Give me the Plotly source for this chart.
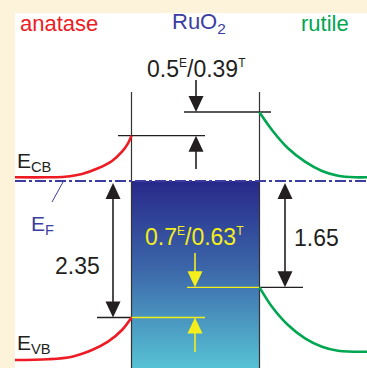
import plotly.graph_objects as go

# ---------------- data (schematic diagram coordinates; vertical axis points downward) ----------------
material_names = ["anatase", "RuO<sub>2</sub>", "rutile"]
material_label_x = [59, 199, 325]
material_colors = ["#ED1C24", "#3B3D9F", "#00A651"]

fermi_level = 181
interface_x = [131.5, 259.5]
interface_top = 92
diagram_bottom = 368

anatase_cb_x = [15, 48, 65, 82, 98, 112, 122, 128, 131.5]
anatase_cb_y = [177.3, 177.3, 176.7, 174, 168.3, 161, 151.7, 143.3, 135.7]
anatase_vb_x = [15, 48, 72, 92, 108, 122, 131.5]
anatase_vb_y = [360, 359.3, 356.7, 350, 341.7, 330, 317.5]
rutile_cb_x = [259.5, 272, 288, 305, 322, 338, 355, 367]
rutile_cb_y = [112.3, 130, 148.3, 161.7, 171, 175.7, 177.3, 177.3]
rutile_vb_x = [259.5, 272, 288, 305, 322, 338, 367]
rutile_vb_y = [287.3, 306.7, 325, 338.3, 346.7, 350.7, 351.7]

# reference levels (short horizontal lines)
level_y = [112, 135.7, 317.5, 317.5, 287.3, 287.3]
level_x0 = [184, 118, 97, 131.5, 187, 259.5]
level_x1 = [271, 205, 131.5, 205, 259.5, 303]
level_is_yellow = [False, False, False, True, True, False]

# arrows: x, start, end (tip at end; double arrows have tips at both ends)
arrow_x = [196, 196, 113, 285, 195, 195]
arrow_start = [80, 169, 183, 183, 253, 352]
arrow_end = [112, 135.7, 317.5, 287.3, 287.3, 317.5]
arrow_double = [False, False, True, True, False, False]
arrow_is_yellow = [False, False, False, False, True, True]

# value labels
SUP = '<sup><span style="font-size:12px">{}</span></sup>'
value_texts = ["0.5" + SUP.format("E") + "/0.39" + SUP.format("T"), "2.35", "1.65",
               "0.7" + SUP.format("E") + "/0.63" + SUP.format("T")]
value_x = [196, 77.5, 316, 194]
value_y = [69, 266, 238, 237]
value_is_yellow = [False, False, False, True]

# ---------------- styling ----------------
BLACK = "#231F20"
YELLOW = "#F4EE1C"
NAVY = "#3B3D9F"
RED = "#ED1C24"
GREEN = "#00A651"
FONT = "Liberation Sans, Arial, sans-serif"
HEAD_W = 15
HEAD_L = 16

fig = go.Figure()

# RuO2 box with gradient
bx0, bx1 = interface_x
fig.add_trace(go.Scatter(
    x=[bx0, bx1, bx1, bx0, bx0], y=[fermi_level, fermi_level, diagram_bottom, diagram_bottom, fermi_level],
    mode="lines", line=dict(width=0), fill="toself",
    fillgradient=dict(type="vertical", start=fermi_level, stop=diagram_bottom,
                      colorscale=[[0, "#28288A"], [0.45, "#3B64A8"], [1, "#57C2D4"]]),
    hoverinfo="skip"))

# interface lines
for xi in interface_x:
    fig.add_trace(go.Scatter(x=[xi, xi], y=[interface_top, diagram_bottom], mode="lines",
                             line=dict(color="#333333", width=1.2), hoverinfo="skip"))

# level lines
for y, x0, x1, yel in zip(level_y, level_x0, level_x1, level_is_yellow):
    fig.add_trace(go.Scatter(x=[x0, x1], y=[y, y], mode="lines",
                             line=dict(color=YELLOW if yel else BLACK, width=1.3), hoverinfo="skip"))

# Fermi level
fig.add_trace(go.Scatter(x=[15, 367], y=[fermi_level, fermi_level], mode="lines",
                         line=dict(color=NAVY, width=2, dash="11px,3px,3px,3px"), hoverinfo="skip"))

# band edges
for xs, ys, col in [(anatase_cb_x, anatase_cb_y, RED), (anatase_vb_x, anatase_vb_y, RED),
                    (rutile_cb_x, rutile_cb_y, GREEN), (rutile_vb_x, rutile_vb_y, GREEN)]:
    fig.add_trace(go.Scatter(x=xs, y=ys, mode="lines", line=dict(color=col, width=2.6, shape="spline"),
                             hoverinfo="skip"))

# E_F leader line
fig.add_trace(go.Scatter(x=[52, 63], y=[202, 182], mode="lines", line=dict(color=NAVY, width=1),
                         hoverinfo="skip"))

# arrows
def head(x, tip, direction, col):
    base = tip - direction * HEAD_L
    fig.add_trace(go.Scatter(x=[x - HEAD_W / 2, x + HEAD_W / 2, x, x - HEAD_W / 2],
                             y=[base, base, tip, base], mode="lines", fill="toself",
                             fillcolor=col, line=dict(width=0, color=col), hoverinfo="skip"))

for x, s, e, dbl, yel in zip(arrow_x, arrow_start, arrow_end, arrow_double, arrow_is_yellow):
    col = YELLOW if yel else BLACK
    d = 1 if e > s else -1
    shaft_end = e - d * (HEAD_L - 2)
    shaft_start = s + d * (HEAD_L - 2) if dbl else s
    fig.add_trace(go.Scatter(x=[x, x], y=[shaft_start, shaft_end], mode="lines",
                             line=dict(color=col, width=1.6), hoverinfo="skip"))
    head(x, e, d, col)
    if dbl:
        head(x, s, -d, col)

annotations = []
for t, x, c in zip(material_names, material_label_x, material_colors):
    annotations.append(dict(x=x, y=23, text=t, showarrow=False, xanchor="center", yanchor="middle",
                            font=dict(family=FONT, size=22, color=c)))
for t, x, y, yel in zip(value_texts, value_x, value_y, value_is_yellow):
    annotations.append(dict(x=x, y=y, text=t, showarrow=False, xanchor="center", yanchor="middle",
                            font=dict(family=FONT, size=23, color=YELLOW if yel else BLACK)))
band_labels = ["E<sub>CB</sub>", "E<sub>F</sub>", "E<sub>VB</sub>"]
band_label_x = [15, 29, 15]
band_label_y = [162, 225, 344]
band_label_colors = [BLACK, NAVY, BLACK]
for t, x, y, c in zip(band_labels, band_label_x, band_label_y, band_label_colors):
    annotations.append(dict(x=x, y=y, text=t, showarrow=False, xanchor="left", yanchor="middle",
                            font=dict(family=FONT, size=21, color=c)))

fig.update_layout(
    width=367, height=368,
    margin=dict(l=15, t=13, r=0, b=0),
    paper_bgcolor="#FDF2DA", plot_bgcolor="white",
    showlegend=False,
    xaxis=dict(range=[15, 367], visible=False, fixedrange=True),
    yaxis=dict(range=[368, 13], visible=False, fixedrange=True),
    annotations=annotations,
)
fig.write_html("out.html", config=dict(displayModeBar=False),
               post_script="document.body.style.margin='0';document.body.style.overflow='hidden';")
